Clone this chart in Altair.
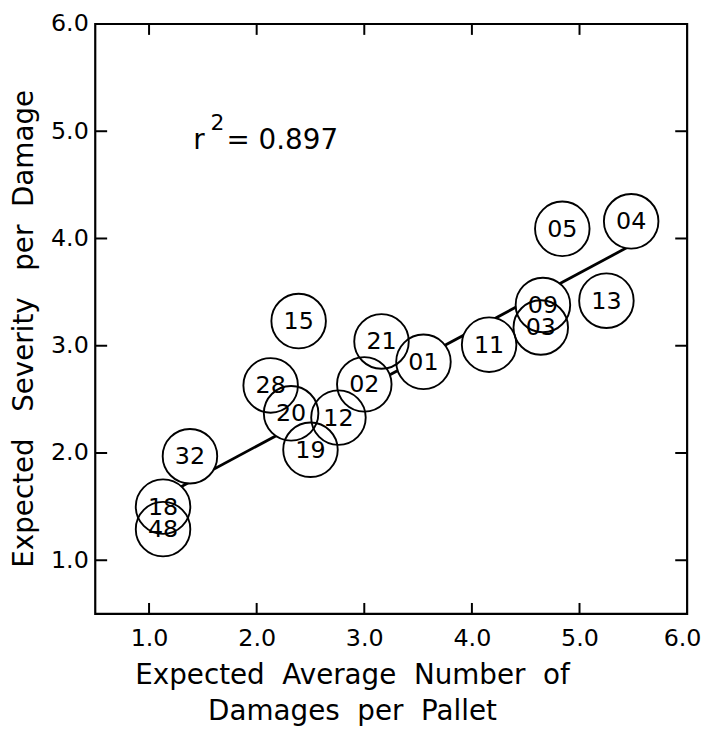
import altair as alt
import pandas as pd

# ---- data ----
labels = ["28", "19", "20", "02", "12", "21", "01", "15", "32",
          "11", "03", "09", "05", "04", "13", "48", "18"]
avg_damages = [2.13, 2.50, 2.32, 3.00, 2.76, 3.16, 3.55, 2.39, 1.38,
               4.16, 4.64, 4.66, 4.84, 5.48, 5.25, 1.13, 1.13]
severity = [2.63, 2.03, 2.37, 2.64, 2.33, 3.04, 2.85, 3.23, 1.97,
            3.01, 3.17, 3.38, 4.09, 4.16, 3.42, 1.29, 1.50]

# regression line end points
fit_x = [1.12, 5.45]
fit_y = [1.59, 3.92]

# axis ticks
tick_labels = [1.0, 2.0, 3.0, 4.0, 5.0, 6.0]
tick_marks = [1.0, 2.0, 3.0, 4.0, 5.0]

# r^2 annotation
r2_x = [1.41, 1.57, 1.72]
r2_y = [4.83, 5.01, 4.83]
r2_text = ["r", "2", "= 0.897"]

FONT = "DejaVu Sans"
W, H = 597, 595
SP = " \u00a0"  # wide word gap, as in the hand lettering

pts = pd.DataFrame({"label": labels, "x": avg_damages, "y": severity})
fit = pd.DataFrame({"x": fit_x, "y": fit_y})
ticks = pd.DataFrame({"t": tick_marks})

xs = alt.Scale(domain=[0.5, 6.0], nice=False, zero=False)
ys = alt.Scale(domain=[0.5, 6.0], nice=False, zero=False)

x_axis = alt.Axis(values=tick_labels, format=".1f", domain=False, ticks=False, grid=False,
                  labelPadding=13, labelFontSize=24, labelFont=FONT, labelColor="black",
                  labelFlush=True, labelFlushOffset=14,
                  title=[SP.join(["Expected", "Average", "Number", "of"]),
                         SP.join(["Damages", "per", "Pallet"])],
                  titleX=259, titleY=70, titleAlign="center", titleBaseline="alphabetic",
                  titleFontSize=28, titleFont=FONT, titleFontWeight="normal",
                  titleColor="black", titleLineHeight=37)
y_axis = alt.Axis(values=tick_labels, format=".1f", domain=False, ticks=False, grid=False,
                  labelPadding=7, labelFontSize=24, labelFont=FONT, labelColor="black",
                  labelFlush=False,
                  title="Expected\u00a0\u00a0 Severity\u00a0\u00a0 per\u00a0 Damage",
                  titleX=-63, titleY=307, titleAngle=270, titleAlign="center",
                  titleBaseline="alphabetic", titleFontSize=28, titleFont=FONT,
                  titleFontWeight="normal", titleColor="black")


def X(field):
    return alt.X(field, scale=xs, axis=x_axis)


def Y(field):
    return alt.Y(field, scale=ys, axis=y_axis)


line = alt.Chart(fit).mark_line(color="black", strokeWidth=2.8).encode(
    x=X("x:Q"), y=Y("y:Q"))

fills = alt.Chart(pts).mark_point(shape="circle", filled=True, fill="white", opacity=1,
                                  size=3025, strokeWidth=0).encode(
    x=X("x:Q"), y=Y("y:Q"))
rings = alt.Chart(pts).mark_point(shape="circle", filled=False, stroke="black", opacity=1,
                                  size=3025, strokeWidth=1.9).encode(
    x=X("x:Q"), y=Y("y:Q"))
txt = alt.Chart(pts).mark_text(font=FONT, fontSize=24, color="black", align="center",
                               baseline="middle", dy=1).encode(
    x=X("x:Q"), y=Y("y:Q"), text="label:N")

TL = 11
tick_bottom = alt.Chart(ticks).mark_rule(color="black", strokeWidth=2).encode(
    x=X("t:Q"), y=alt.value(H), y2=alt.value(H - TL))
tick_top = alt.Chart(ticks).mark_rule(color="black", strokeWidth=2).encode(
    x=X("t:Q"), y=alt.value(0), y2=alt.value(TL))
tick_left = alt.Chart(ticks).mark_rule(color="black", strokeWidth=2).encode(
    y=Y("t:Q"), x=alt.value(0), x2=alt.value(TL + 1))
tick_right = alt.Chart(ticks).mark_rule(color="black", strokeWidth=2).encode(
    y=Y("t:Q"), x=alt.value(W), x2=alt.value(W - TL - 1))

r2_layers = []
for xv, yv, tv, fs in zip(r2_x, r2_y, r2_text, [28, 22, 28]):
    d = pd.DataFrame({"x": [xv], "y": [yv], "text": [tv]})
    r2_layers.append(
        alt.Chart(d).mark_text(font=FONT, fontSize=fs, color="black", align="left",
                               baseline="alphabetic").encode(
            x=X("x:Q"), y=Y("y:Q"), text="text:N")
    )

chart = alt.layer(line, tick_bottom, tick_top, tick_left, tick_right,
                  fills, rings, txt, *r2_layers).properties(
    width=W, height=H,
    autosize=alt.AutoSizeParams(type="none"),
    padding={"left": 88, "top": 13, "right": 15, "bottom": 112},
    background="white",
).configure_view(stroke="black", strokeWidth=2.2)

chart.save("out.html", embed_options={"renderer": "svg", "actions": False})
